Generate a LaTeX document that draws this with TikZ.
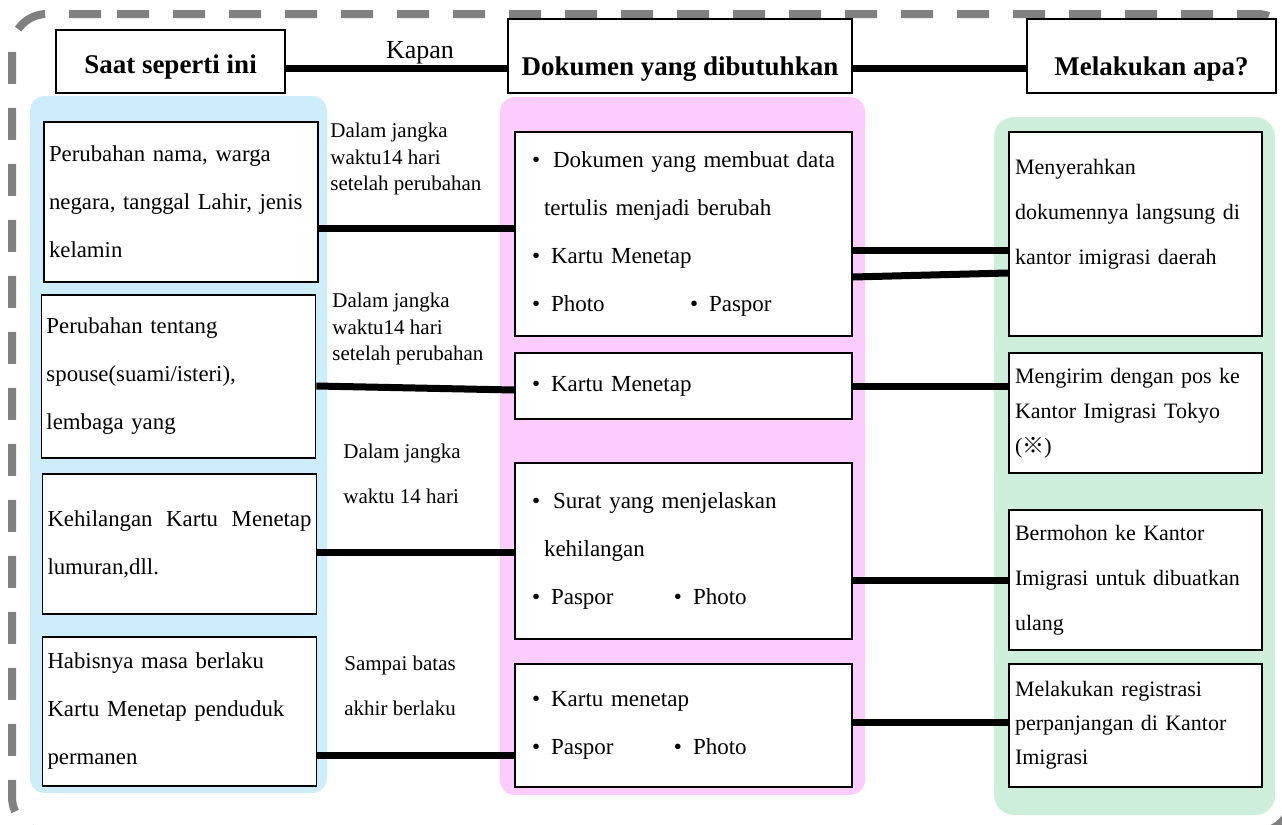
\documentclass[tikz,border=0pt]{standalone}
\usepackage{fontspec}
\setmainfont{Liberation Serif}
\newfontfamily\cjkfont{Noto Sans CJK JP}
\definecolor{lightblue}{RGB}{204,237,249}
\definecolor{lightpink}{RGB}{252,204,252}
\definecolor{lightgreen}{RGB}{204,238,218}
\definecolor{dashgray}{RGB}{128,128,128}

\begin{document}
\begin{tikzpicture}[x=0.5pt, y=-0.5pt,
    head/.style={draw, line width=0.9pt, fill=white, font=\bfseries\fontsize{13.5}{16}\selectfont, text depth=3pt},
    lbox/.style={draw, line width=0.9pt, fill=white, align=left, text width=132pt, inner xsep=2.5pt, font=\fontsize{11.4}{24}\selectfont},
    mbox/.style={draw, line width=0.9pt, fill=white, align=left, text width=151.5pt, inner xsep=8.5pt, font=\fontsize{11.5}{24}\selectfont},
    rbox/.style={draw, line width=0.9pt, fill=white, align=left, text width=120.5pt, inner xsep=3pt, font=\fontsize{11}{22.5}\selectfont},
    lbl/.style={align=left, inner sep=0pt, anchor=north west, font=\fontsize{10.5}{13.25}\selectfont},
    link/.style={line width=3.5pt},
    outer/.style={draw=dashgray, line width=4pt, dash pattern=on 16pt off 12pt, rounded corners=17.5pt}]
    \useasboundingbox (0,0) rectangle (1282,825);
    \draw[outer] (82,14) -- (1292,14) -- (1292,832) -- (12,832) -- (12,14) -- cycle;
    \fill[lightblue, rounded corners=7.5pt] (30,96) rectangle (327,793);
    \fill[lightpink, rounded corners=7.5pt] (500,97) rectangle (865,795);
    \fill[lightgreen, rounded corners=10pt] (994,117) rectangle (1275,815);

    \node[head, minimum width=114.5pt, minimum height=31.5pt, text height=14.5pt] (saat) at (170.5,61.5) {Saat seperti ini};
    \node[head, minimum width=172pt, minimum height=37pt, text height=22pt] (dok) at (680,56) {Dokumen yang dibutuhkan};
    \node[head, minimum width=124.5pt, minimum height=37pt, text height=22pt] (mel) at (1151.5,56) {Melakukan apa?};
    \node[anchor=base, inner sep=0pt, font=\fontsize{13}{15}\selectfont] (kapan) at (420,58) {Kapan};

    \node[lbox, minimum height=80pt] (l1) at (181,202) {Perubahan nama, warga\\negara, tanggal Lahir, jenis\\kelamin};
    \node[lbox, minimum height=81.5pt] (l2) at (178.5,376.5) {Perubahan tentang\\spouse(suami/isteri),\\lembaga yang};
    \node[lbox, minimum height=70pt] (l3) at (179.5,544) {Kehilangan\hfill Kartu\hfill Menetap\\lumuran,dll.};
    \node[lbox, minimum height=74.5pt] (l4) at (179.5,711.5) {Habisnya masa berlaku\\Kartu Menetap penduduk\\permanen};

    \node[mbox, minimum height=102pt] (m1) at (683.5,234) {\textbullet\hspace{6.5pt}Dokumen\hfill yang\hfill membuat\hfill data\\\hspace*{6pt}tertulis menjadi berubah\\\textbullet\hspace{5.5pt}Kartu Menetap\\\makebox[79pt][l]{\textbullet\hspace{5.5pt}Photo}\textbullet\hspace{5.5pt}Paspor};
    \node[mbox, minimum height=33pt] (m2) at (683.5,386) {\textbullet\hspace{5.5pt}Kartu Menetap};
    \node[mbox, minimum height=88pt] (m3) at (683.5,551) {\textbullet\hspace{6.5pt}Surat yang menjelaskan\\\hspace*{6pt}kehilangan\\\makebox[71pt][l]{\textbullet\hspace{5.5pt}Paspor}\textbullet\hspace{5.5pt}Photo};
    \node[mbox, minimum height=61.5pt] (m4) at (683.5,725.5) {\textbullet\hspace{5.5pt}Kartu menetap\\\makebox[71pt][l]{\textbullet\hspace{5.5pt}Paspor}\textbullet\hspace{5.5pt}Photo};

    \node[rbox, minimum height=102pt] (r1) at (1135.5,234) {Menyerahkan\\dokumennya langsung di\\kantor imigrasi daerah\\\mbox{}};
    \node[rbox, minimum height=60pt, font=\fontsize{11}{17.5}\selectfont] (r2) at (1135.5,413) {Mengirim dengan pos ke\\Kantor Imigrasi Tokyo\\({\cjkfont ※})};
    \node[rbox, minimum height=70pt] (r3) at (1135.5,580) {Bermohon ke Kantor\\Imigrasi untuk dibuatkan\\ulang};
    \node[rbox, minimum height=61.5pt, font=\fontsize{11}{17}\selectfont] (r4) at (1135.5,725.5) {Melakukan registrasi\\perpanjangan di Kantor\\Imigrasi};

    \node[lbl] (t1) at (330,123) {Dalam jangka\\waktu14 hari\\setelah perubahan};
    \node[lbl] (t2) at (332,293) {Dalam jangka\\waktu14 hari\\setelah perubahan};
    \node[lbl, font=\fontsize{10.5}{22.5}\selectfont] (t3) at (343,444) {Dalam jangka\\waktu 14 hari};
    \node[lbl, font=\fontsize{10.5}{22.5}\selectfont] (t4) at (344,656) {Sampai batas\\akhir berlaku};

    \draw[link] ([yshift=-3.25pt]saat.east) -- ([yshift=-6pt]dok.west);
    \draw[link] ([yshift=-6pt]dok.east) -- ([yshift=-6pt]mel.west);
    \draw[link] ([yshift=-13pt]l1.east) -- ([yshift=3pt]m1.west);
    \draw[link] ([yshift=-4.75pt]l2.east) -- ([yshift=-2pt]m2.west);
    \draw[link] ([yshift=-4pt]l3.east) -- ([yshift=-0.5pt]m3.west);
    \draw[link] ([yshift=-21.75pt]l4.east) -- ([yshift=-14.75pt]m4.west);
    \draw[link] ([yshift=-8pt]m1.east) -- ([yshift=-8pt]r1.west);
    \draw[link] ([yshift=-21.5pt]m1.east) -- ([yshift=-19.5pt]r1.west);
    \draw[link] (m2.east) -- ([yshift=13.5pt]r2.west);
    \draw[link] ([yshift=-14.5pt]m3.east) -- (r3.west);
    \draw[link] ([yshift=1.75pt]m4.east) -- ([yshift=1.75pt]r4.west);
\end{tikzpicture}
\end{document}
